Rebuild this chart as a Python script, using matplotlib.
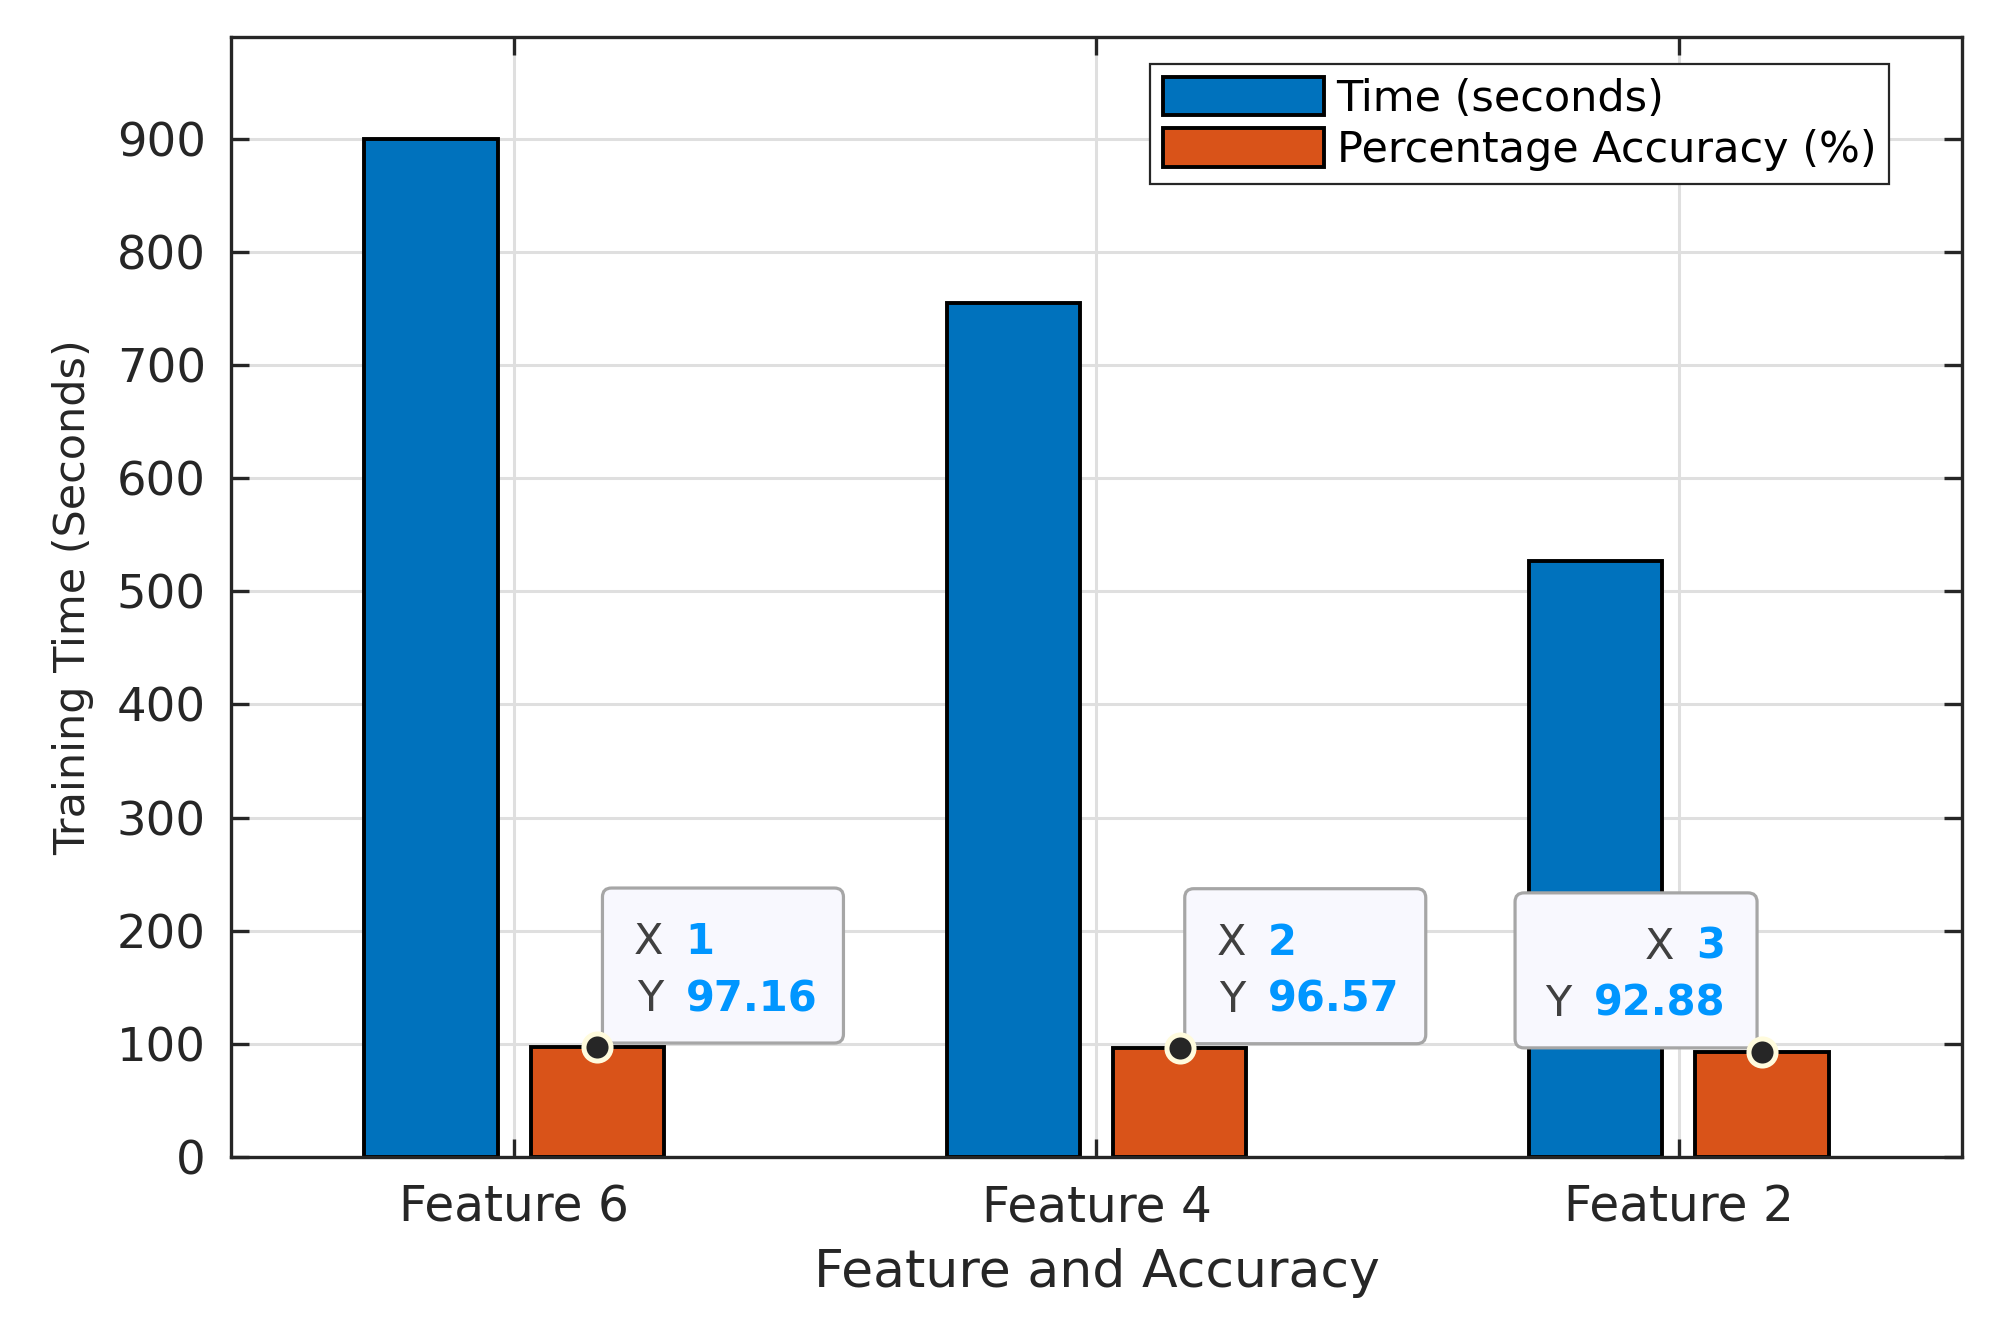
import numpy as np
import matplotlib.pyplot as plt
from matplotlib.patches import FancyBboxPatch
from matplotlib.transforms import ScaledTranslation

# data
features = ['Feature 6', 'Feature 4', 'Feature 2']
time_sec = [900, 755, 527]
accuracy = [97.16, 96.57, 92.88]
series_names = ['Time (seconds)', 'Percentage Accuracy (%)']
yticks = list(range(0, 1000, 100))

plt.rcParams['font.family'] = ['DejaVu Sans']
dark = '#262626'

fig = plt.figure(figsize=(19.91, 13.26), dpi=100)
ax = fig.add_axes([0.116, 0.1275, 0.8695, 0.8445])

x = np.arange(1, len(features) + 1)
w = 0.229
off = 0.143
ax.bar(x - off, time_sec, w, color='#0072BD', edgecolor='black', linewidth=2.8,
       label=series_names[0], zorder=2)
ax.bar(x + off, accuracy, w, color='#D95319', edgecolor='black', linewidth=2.8,
       label=series_names[1], zorder=2)

ax.set_xlim(0.5136, 3.4866)
ax.set_ylim(0, 990)
ax.set_xticks(x)
ax.set_xticklabels(features)
ax.set_yticks(yticks)

ax.set_axisbelow(True)
ax.grid(True, color='#DFDFDF', linewidth=2.2)
for s in ax.spines.values():
    s.set_color(dark)
    s.set_linewidth(2.4)
ax.tick_params(axis='both', direction='in', length=13, width=2.4, color=dark,
               labelcolor=dark, top=True, right=True)
ax.tick_params(axis='y', pad=18, labelsize=33.5)
ax.tick_params(axis='x', pad=19, labelsize=35)

ax.set_xlabel('Feature and Accuracy', fontsize=37.5, color=dark, labelpad=12)
ax.set_ylabel('Training Time (Seconds)', fontsize=31, color=dark, labelpad=16)

leg = ax.legend(loc='upper right', bbox_to_anchor=(0.9578, 0.9763), borderaxespad=0,
                fontsize=31, handlelength=3.75, handleheight=1.0, handletextpad=0.28,
                labelspacing=0.2, borderpad=0.3, fancybox=False, framealpha=1)
leg.get_frame().set_edgecolor(dark)
leg.get_frame().set_linewidth(1.6)
for t in leg.get_texts():
    t.set_color('black')

# data tips on the accuracy bars
sides = ['right', 'right', 'left']
for xi, yi, side in zip(x + off, accuracy, sides):
    tr = ScaledTranslation(xi, yi, ax.transData)
    if side == 'right':
        bx0, bx1 = 5, 246
        vx, vha = 88, 'left'
    else:
        bx0, bx1 = -247, -5
        vx, vha = -37, 'right'
    box = FancyBboxPatch((bx0, 4), bx1 - bx0, 155, boxstyle='round,pad=0,rounding_size=9',
                         facecolor='#F8F8FE', edgecolor='#A6A6A6', linewidth=2.3,
                         transform=tr, zorder=5, clip_on=False)
    ax.add_patch(box)
    rows = [('X', '%d' % round(xi), 93), ('Y', '%.2f' % yi, 36)]
    for lab, val, by in rows:
        vt = ax.text(vx, by, val, transform=tr, ha=vha, va='baseline', fontsize=30,
                     fontweight='bold', color='#0096FF', zorder=6)
        ax.annotate(lab, xy=(0, 0), xycoords=vt, xytext=(-22, 0),
                    textcoords='offset pixels', ha='right', va='bottom',
                    fontsize=31, color='#404040', zorder=6)
    ax.plot([xi], [yi], 'o', ms=19.5, mfc=dark, mec='#FFFBDD', mew=3.6, zorder=7,
            clip_on=False)

fig.savefig('out.png', dpi=100)
